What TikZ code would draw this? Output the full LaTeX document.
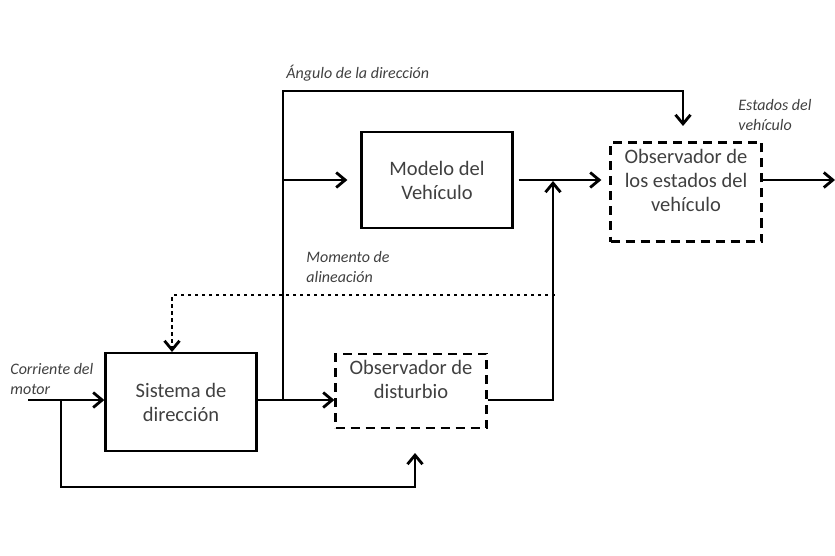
\documentclass[tikz,border=0pt]{standalone}
\usepackage{fontspec}
\setmainfont{Carlito}
\usetikzlibrary{arrows.meta}

\begin{document}
\begin{tikzpicture}[x=1pt,y=-1pt,>={Straight Barb[length=9pt,width=15pt]},line width=2.8pt,
    block/.style={draw,line width=2.3pt,minimum width=151pt,align=center,text=black!75,font=\fontsize{20.5}{24}\selectfont},
    obs block/.style={block,dash pattern=on 9pt off 6pt},
    lbl/.style={anchor=north west,inner sep=0pt,align=left,text=black!75,font=\fontsize{16}{20}\selectfont\itshape},
    dots/.style={dash pattern=on 3.5pt off 3.5pt}]
    \useasboundingbox (0,0) rectangle (835,556);

    \node[block,minimum height=98pt] (sis) at (181,402) {Sistema de\\direcci\'on};
    \node[obs block,minimum height=74pt,text depth=24pt] (dis) at (411,391) {Observador de\\disturbio};
    \node[block,minimum height=96pt] (mod) at (437,180) {Modelo del\\Veh\'iculo};
    \node[obs block,minimum height=99pt,text depth=24pt] (obs) at (686,192) {Observador de\\los estados del\\veh\'iculo};

    \node[lbl] (corr) at (9,362) {Corriente del\\motor};
    \node[lbl] (ang) at (285,64) {\'Angulo de la direcci\'on};
    \node[lbl] (est) at (737,98) {Estados del\\veh\'iculo};
    \node[lbl] (mom) at (305,250) {Momento de\\alineaci\'on};

    \coordinate (in) at (28,400);
    \coordinate (b1) at (61,400);
    \coordinate (b2) at (61,487);
    \coordinate (dtip) at (415,453);
    \coordinate (j1) at (283,400);
    \coordinate (j2) at (283,180);
    \coordinate (top) at (283,91);
    \coordinate (atip) at (683,126);
    \coordinate (j3) at (553,181);
    \coordinate (m1) at (555,295);
    \coordinate (stip) at (172,352);
    \coordinate (out) at (835,180);

    \draw[->] (in) -- (in -| sis.west);
    \draw[->] (b1) -- (b2) -| (dtip);
    \draw[->] (sis.east |- in) -- (dis.west |- in);
    \draw[->] (j1) -- (top) -| (atip);
    \draw[->,shorten >=13pt] (j2) -- (mod.west);
    \draw[->,shorten >=8pt,shorten <=5pt] (mod.east) -- (obs.west |- mod.east);
    \draw[->] (dis.east |- in) -| (j3);
    \draw[->,dots] (m1) -| (stip);
    \draw[->] (obs.east |- mod.east) -- (out);
\end{tikzpicture}
\end{document}
